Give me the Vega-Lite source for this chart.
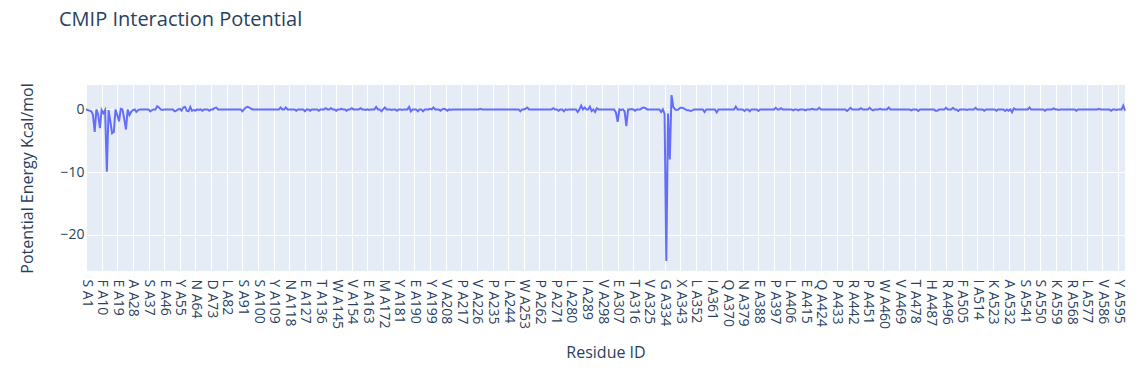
{
  "$schema": "https://vega.github.io/schema/vega-lite/v6.json",
  "width": 1039,
  "height": 186,
  "autosize": "none",
  "padding": {"left": 86, "top": 85, "right": 21, "bottom": 97},
  "background": "white",
  "title": {"text": "CMIP Interaction Potential", "anchor": "start", "frame": "group", "dx": -27, "offset": 53, "font": "Open Sans", "fontSize": 20, "fontWeight": "normal", "color": "#2a3f5f"},
  "config": {"view": {"fill": "#E5ECF6", "stroke": null}, "font": "Open Sans"},
  "data": {"values": [
{"r":"S A1","v":0},{"r":"A2","v":-0.1},{"r":"A3","v":-0.2},{"r":"A4","v":-0.3},{"r":"A5","v":-0.8},{"r":"A6","v":-3.6},{"r":"A7","v":0},{"r":"A8","v":-0.8},{"r":"A9","v":-3.0},{"r":"F A10","v":-0.1},
{"r":"A11","v":-0.6},{"r":"A12","v":-0.1},{"r":"A13","v":-9.95},{"r":"A14","v":-0.1},{"r":"A15","v":-1.9},{"r":"A16","v":-3.8},{"r":"A17","v":-3.6},{"r":"A18","v":0},{"r":"E A19","v":-0.9},{"r":"A20","v":-1.9},
{"r":"A21","v":0.1},{"r":"A22","v":0},{"r":"A23","v":-1.5},{"r":"A24","v":-3.2},{"r":"A25","v":0},{"r":"A26","v":-0.9},{"r":"A27","v":-0.4},{"r":"A A28","v":-0.1},{"r":"A29","v":0},{"r":"A30","v":-0.4},
{"r":"A31","v":-0.1},{"r":"A32","v":0},{"r":"A33","v":0},{"r":"A34","v":0},{"r":"A35","v":0},{"r":"A36","v":0},{"r":"S A37","v":0},{"r":"A38","v":-0.3},{"r":"A39","v":-0.1},{"r":"A40","v":0},
{"r":"A41","v":0},{"r":"A42","v":0.5},{"r":"A43","v":0.3},{"r":"A44","v":0},{"r":"A45","v":-0.1},{"r":"E A46","v":0},{"r":"A47","v":0},{"r":"A48","v":0},{"r":"A49","v":0},{"r":"A50","v":0},
{"r":"A51","v":0},{"r":"A52","v":-0.3},{"r":"A53","v":-0.2},{"r":"A54","v":0},{"r":"Y A55","v":0.1},{"r":"A56","v":-0.2},{"r":"A57","v":0.3},{"r":"A58","v":0.4},{"r":"A59","v":-0.2},{"r":"A60","v":-0.3},
{"r":"A61","v":0.4},{"r":"A62","v":-0.2},{"r":"A63","v":-0.1},{"r":"N A64","v":-0.2},{"r":"A65","v":0},{"r":"A66","v":-0.1},{"r":"A67","v":0},{"r":"A68","v":-0.2},{"r":"A69","v":0},{"r":"A70","v":0},
{"r":"A71","v":0},{"r":"A72","v":-0.2},{"r":"D A73","v":0},{"r":"A74","v":0},{"r":"A75","v":0.2},{"r":"A76","v":0.3},{"r":"A77","v":0},{"r":"A78","v":0},{"r":"A79","v":0},{"r":"A80","v":0},
{"r":"A81","v":0},{"r":"L A82","v":0},{"r":"A83","v":0},{"r":"A84","v":0},{"r":"A85","v":0},{"r":"A86","v":0},{"r":"A87","v":0},{"r":"A88","v":0},{"r":"A89","v":0},{"r":"A90","v":0},
{"r":"S A91","v":-0.3},{"r":"A92","v":0},{"r":"A93","v":0.3},{"r":"A94","v":0.4},{"r":"A95","v":0.3},{"r":"A96","v":0.1},{"r":"A97","v":0},{"r":"A98","v":0},{"r":"A99","v":0},{"r":"S A100","v":0},
{"r":"A101","v":0},{"r":"A102","v":0},{"r":"A103","v":0},{"r":"A104","v":0},{"r":"A105","v":0},{"r":"A106","v":0},{"r":"A107","v":0},{"r":"A108","v":0},{"r":"Y A109","v":0},{"r":"A110","v":0},
{"r":"A111","v":0},{"r":"A112","v":0},{"r":"A113","v":0.3},{"r":"A114","v":0},{"r":"A115","v":0},{"r":"A116","v":0.3},{"r":"A117","v":0},{"r":"N A118","v":0},{"r":"A119","v":0},{"r":"A120","v":0},
{"r":"A121","v":0},{"r":"A122","v":-0.2},{"r":"A123","v":0},{"r":"A124","v":0},{"r":"A125","v":0},{"r":"A126","v":0},{"r":"E A127","v":-0.3},{"r":"A128","v":0},{"r":"A129","v":0},{"r":"A130","v":-0.2},
{"r":"A131","v":0},{"r":"A132","v":0},{"r":"A133","v":0},{"r":"A134","v":0},{"r":"A135","v":-0.2},{"r":"T A136","v":0},{"r":"A137","v":0},{"r":"A138","v":0},{"r":"A139","v":0.2},{"r":"A140","v":0},
{"r":"A141","v":0},{"r":"A142","v":0.2},{"r":"A143","v":0},{"r":"A144","v":0},{"r":"W A145","v":-0.2},{"r":"A146","v":0},{"r":"A147","v":0},{"r":"A148","v":0.1},{"r":"A149","v":0},{"r":"A150","v":0},
{"r":"A151","v":-0.2},{"r":"A152","v":0},{"r":"A153","v":0},{"r":"V A154","v":0.2},{"r":"A155","v":0},{"r":"A156","v":0},{"r":"A157","v":0},{"r":"A158","v":0},{"r":"A159","v":0.2},{"r":"A160","v":0},
{"r":"A161","v":0},{"r":"A162","v":-0.1},{"r":"E A163","v":0},{"r":"A164","v":-0.1},{"r":"A165","v":0},{"r":"A166","v":0},{"r":"A167","v":0},{"r":"A168","v":0.4},{"r":"A169","v":0},{"r":"A170","v":0},
{"r":"A171","v":-0.3},{"r":"M A172","v":0},{"r":"A173","v":0.3},{"r":"A174","v":0},{"r":"A175","v":0},{"r":"A176","v":0},{"r":"A177","v":-0.1},{"r":"A178","v":0},{"r":"A179","v":0},{"r":"A180","v":-0.2},
{"r":"Y A181","v":0},{"r":"A182","v":0},{"r":"A183","v":-0.1},{"r":"A184","v":0},{"r":"A185","v":0},{"r":"A186","v":0},{"r":"A187","v":0.4},{"r":"A188","v":-0.3},{"r":"A189","v":0},{"r":"E A190","v":0},
{"r":"A191","v":0},{"r":"A192","v":-0.3},{"r":"A193","v":0},{"r":"A194","v":0},{"r":"A195","v":-0.3},{"r":"A196","v":0},{"r":"A197","v":0},{"r":"A198","v":0},{"r":"Y A199","v":0.1},{"r":"A200","v":0},
{"r":"A201","v":0.3},{"r":"A202","v":0},{"r":"A203","v":0},{"r":"A204","v":0},{"r":"A205","v":-0.2},{"r":"A206","v":0},{"r":"A207","v":0.1},{"r":"V A208","v":0},{"r":"A209","v":-0.2},{"r":"A210","v":0},
{"r":"A211","v":-0.1},{"r":"A212","v":0},{"r":"A213","v":0},{"r":"A214","v":0},{"r":"A215","v":0},{"r":"A216","v":0},{"r":"P A217","v":0},{"r":"A218","v":0},{"r":"A219","v":0},{"r":"A220","v":0},
{"r":"A221","v":0},{"r":"A222","v":0},{"r":"A223","v":0},{"r":"A224","v":0},{"r":"A225","v":0},{"r":"V A226","v":0},{"r":"A227","v":0},{"r":"A228","v":0.1},{"r":"A229","v":0},{"r":"A230","v":0},
{"r":"A231","v":0},{"r":"A232","v":0},{"r":"A233","v":0},{"r":"A234","v":0},{"r":"P A235","v":0},{"r":"A236","v":0},{"r":"A237","v":0},{"r":"A238","v":0},{"r":"A239","v":0},{"r":"A240","v":0},
{"r":"A241","v":0},{"r":"A242","v":0},{"r":"A243","v":0},{"r":"L A244","v":0},{"r":"A245","v":0},{"r":"A246","v":0},{"r":"A247","v":0},{"r":"A248","v":0},{"r":"A249","v":0},{"r":"A250","v":0},
{"r":"A251","v":-0.3},{"r":"A252","v":0},{"r":"W A253","v":0},{"r":"A254","v":0.1},{"r":"A255","v":0.3},{"r":"A256","v":0},{"r":"A257","v":0},{"r":"A258","v":0},{"r":"A259","v":0},{"r":"A260","v":0},
{"r":"A261","v":0},{"r":"P A262","v":0},{"r":"A263","v":0},{"r":"A264","v":0},{"r":"A265","v":0},{"r":"A266","v":0},{"r":"A267","v":0},{"r":"A268","v":0},{"r":"A269","v":0},{"r":"A270","v":0.2},
{"r":"P A271","v":0},{"r":"A272","v":0},{"r":"A273","v":-0.2},{"r":"A274","v":0},{"r":"A275","v":0},{"r":"A276","v":-0.3},{"r":"A277","v":0},{"r":"A278","v":-0.1},{"r":"A279","v":0},{"r":"L A280","v":0},
{"r":"A281","v":0},{"r":"A282","v":0},{"r":"A283","v":0},{"r":"A284","v":-0.4},{"r":"A285","v":0},{"r":"A286","v":0.6},{"r":"A287","v":0},{"r":"A288","v":0.3},{"r":"I A289","v":0},{"r":"A290","v":0},
{"r":"A291","v":0.45},{"r":"A292","v":-0.25},{"r":"A293","v":0},{"r":"A294","v":-0.4},{"r":"A295","v":0.2},{"r":"A296","v":0},{"r":"A297","v":0},{"r":"V A298","v":0},{"r":"A299","v":0},{"r":"A300","v":0},
{"r":"A301","v":0},{"r":"A302","v":0},{"r":"A303","v":0},{"r":"A304","v":0},{"r":"A305","v":0},{"r":"A306","v":-0.5},{"r":"E A307","v":-1.97},{"r":"A308","v":0},{"r":"A309","v":-0.1},{"r":"A310","v":0},
{"r":"A311","v":-0.3},{"r":"A312","v":-2.66},{"r":"A313","v":0},{"r":"A314","v":0},{"r":"A315","v":0.05},{"r":"T A316","v":0},{"r":"A317","v":-0.2},{"r":"A318","v":0},{"r":"A319","v":0},{"r":"A320","v":0},
{"r":"A321","v":0.2},{"r":"A322","v":0.3},{"r":"A323","v":0.2},{"r":"A324","v":0},{"r":"V A325","v":0},{"r":"A326","v":0},{"r":"A327","v":0},{"r":"A328","v":0},{"r":"A329","v":0},{"r":"A330","v":0},
{"r":"A331","v":0},{"r":"A332","v":-0.4},{"r":"A333","v":0},{"r":"G A334","v":-0.7},{"r":"A335","v":-24.2},{"r":"A336","v":-0.65},{"r":"A337","v":-8.0},{"r":"A338","v":2.3},{"r":"A339","v":0.4},{"r":"A340","v":0},
{"r":"A341","v":-0.1},{"r":"A342","v":0},{"r":"X A343","v":0.25},{"r":"A344","v":0.25},{"r":"A345","v":0.15},{"r":"A346","v":0},{"r":"A347","v":-0.15},{"r":"A348","v":-0.15},{"r":"A349","v":-0.25},{"r":"A350","v":-0.15},
{"r":"A351","v":0},{"r":"L A352","v":0},{"r":"A353","v":0},{"r":"A354","v":0},{"r":"A355","v":0},{"r":"A356","v":0},{"r":"A357","v":-0.4},{"r":"A358","v":0},{"r":"A359","v":0},{"r":"A360","v":0},
{"r":"I A361","v":0},{"r":"A362","v":0},{"r":"A363","v":0},{"r":"A364","v":-0.45},{"r":"A365","v":0},{"r":"A366","v":0},{"r":"A367","v":0},{"r":"A368","v":0},{"r":"A369","v":0},{"r":"Q A370","v":0},
{"r":"A371","v":0},{"r":"A372","v":0},{"r":"A373","v":0},{"r":"A374","v":0},{"r":"A375","v":0.45},{"r":"A376","v":0},{"r":"A377","v":0},{"r":"A378","v":0},{"r":"N A379","v":0},{"r":"A380","v":-0.25},
{"r":"A381","v":0},{"r":"A382","v":0},{"r":"A383","v":-0.3},{"r":"A384","v":0},{"r":"A385","v":0},{"r":"A386","v":0},{"r":"A387","v":0},{"r":"E A388","v":-0.25},{"r":"A389","v":0},{"r":"A390","v":0},
{"r":"A391","v":0},{"r":"A392","v":0},{"r":"A393","v":0},{"r":"A394","v":0},{"r":"A395","v":0},{"r":"A396","v":0},{"r":"P A397","v":0},{"r":"A398","v":0.25},{"r":"A399","v":0},{"r":"A400","v":0},
{"r":"A401","v":0.2},{"r":"A402","v":0},{"r":"A403","v":0},{"r":"A404","v":0},{"r":"A405","v":0},{"r":"L A406","v":0},{"r":"A407","v":0},{"r":"A408","v":-0.15},{"r":"A409","v":0},{"r":"A410","v":0},
{"r":"A411","v":-0.15},{"r":"A412","v":0},{"r":"A413","v":0},{"r":"A414","v":0},{"r":"E A415","v":-0.15},{"r":"A416","v":0},{"r":"A417","v":0},{"r":"A418","v":0},{"r":"A419","v":0.1},{"r":"A420","v":0},
{"r":"A421","v":0},{"r":"A422","v":0},{"r":"A423","v":0.25},{"r":"Q A424","v":0},{"r":"A425","v":0},{"r":"A426","v":0},{"r":"A427","v":0},{"r":"A428","v":0},{"r":"A429","v":0},{"r":"A430","v":0},
{"r":"A431","v":0},{"r":"A432","v":0},{"r":"P A433","v":0},{"r":"A434","v":0},{"r":"A435","v":0},{"r":"A436","v":0},{"r":"A437","v":0},{"r":"A438","v":0},{"r":"A439","v":-0.25},{"r":"A440","v":0},
{"r":"A441","v":0.25},{"r":"R A442","v":0},{"r":"A443","v":0},{"r":"A444","v":0},{"r":"A445","v":0},{"r":"A446","v":0},{"r":"A447","v":0.2},{"r":"A448","v":0},{"r":"A449","v":0},{"r":"A450","v":0},
{"r":"P A451","v":0},{"r":"A452","v":0.25},{"r":"A453","v":0},{"r":"A454","v":-0.15},{"r":"A455","v":0},{"r":"A456","v":0},{"r":"A457","v":0},{"r":"A458","v":0.1},{"r":"A459","v":0},{"r":"W A460","v":0},
{"r":"A461","v":0},{"r":"A462","v":0},{"r":"A463","v":0.3},{"r":"A464","v":0},{"r":"A465","v":0},{"r":"A466","v":0},{"r":"A467","v":0},{"r":"A468","v":0},{"r":"V A469","v":0},{"r":"A470","v":0},
{"r":"A471","v":0},{"r":"A472","v":0},{"r":"A473","v":0},{"r":"A474","v":0},{"r":"A475","v":0},{"r":"A476","v":-0.15},{"r":"A477","v":0},{"r":"T A478","v":0},{"r":"A479","v":0},{"r":"A480","v":-0.25},
{"r":"A481","v":0},{"r":"A482","v":0},{"r":"A483","v":0},{"r":"A484","v":0},{"r":"A485","v":0},{"r":"A486","v":0},{"r":"H A487","v":0},{"r":"A488","v":0},{"r":"A489","v":0},{"r":"A490","v":-0.2},
{"r":"A491","v":-0.2},{"r":"A492","v":0},{"r":"A493","v":0},{"r":"A494","v":0},{"r":"A495","v":0},{"r":"R A496","v":0.25},{"r":"A497","v":0},{"r":"A498","v":0},{"r":"A499","v":0},{"r":"A500","v":0.25},
{"r":"A501","v":0},{"r":"A502","v":0},{"r":"A503","v":-0.25},{"r":"A504","v":0},{"r":"F A505","v":0},{"r":"A506","v":0},{"r":"A507","v":0},{"r":"A508","v":-0.1},{"r":"A509","v":0},{"r":"A510","v":0},
{"r":"A511","v":0},{"r":"A512","v":0},{"r":"A513","v":0.25},{"r":"I A514","v":0},{"r":"A515","v":0},{"r":"A516","v":0},{"r":"A517","v":0},{"r":"A518","v":-0.2},{"r":"A519","v":0},{"r":"A520","v":0},
{"r":"A521","v":0},{"r":"A522","v":0},{"r":"K A523","v":0},{"r":"A524","v":0},{"r":"A525","v":-0.2},{"r":"A526","v":0},{"r":"A527","v":0},{"r":"A528","v":0},{"r":"A529","v":0},{"r":"A530","v":-0.25},
{"r":"A531","v":0},{"r":"A A532","v":-0.2},{"r":"A533","v":0},{"r":"A534","v":-0.45},{"r":"A535","v":0.15},{"r":"A536","v":0},{"r":"A537","v":0},{"r":"A538","v":0},{"r":"A539","v":0},{"r":"A540","v":0},
{"r":"S A541","v":0},{"r":"A542","v":0},{"r":"A543","v":0},{"r":"A544","v":0.3},{"r":"A545","v":0},{"r":"A546","v":0},{"r":"A547","v":0},{"r":"A548","v":0},{"r":"A549","v":0},{"r":"S A550","v":0},
{"r":"A551","v":0},{"r":"A552","v":0},{"r":"A553","v":-0.2},{"r":"A554","v":0},{"r":"A555","v":0},{"r":"A556","v":0},{"r":"A557","v":0},{"r":"A558","v":0.15},{"r":"K A559","v":0},{"r":"A560","v":0},
{"r":"A561","v":-0.1},{"r":"A562","v":0},{"r":"A563","v":0},{"r":"A564","v":0},{"r":"A565","v":0},{"r":"A566","v":0},{"r":"A567","v":0},{"r":"R A568","v":0},{"r":"A569","v":0},{"r":"A570","v":0},
{"r":"A571","v":-0.2},{"r":"A572","v":0},{"r":"A573","v":0},{"r":"A574","v":0},{"r":"A575","v":0},{"r":"A576","v":0},{"r":"L A577","v":0},{"r":"A578","v":0},{"r":"A579","v":0},{"r":"A580","v":0},
{"r":"A581","v":0},{"r":"A582","v":0},{"r":"A583","v":0},{"r":"A584","v":0.1},{"r":"A585","v":0},{"r":"V A586","v":0},{"r":"A587","v":0},{"r":"A588","v":0},{"r":"A589","v":0},{"r":"A590","v":0},
{"r":"A591","v":-0.2},{"r":"A592","v":0},{"r":"A593","v":0},{"r":"A594","v":-0.1},{"r":"Y A595","v":0},{"r":"A596","v":0},{"r":"A597","v":0},{"r":"A598","v":0.6},{"r":"A599","v":-0.2}
  ]},
  "mark": {"type": "line", "color": "#636efa", "strokeWidth": 2, "interpolate": "linear"},
  "encoding": {
    "x": {
      "field": "r", "type": "ordinal", "sort": null,
      "scale": {"type": "point", "padding": 0},
      "axis": {
        "title": "Residue ID",
        "values": ["S A1","F A10","E A19","A A28","S A37","E A46","Y A55","N A64","D A73","L A82","S A91","S A100","Y A109","N A118","E A127","T A136","W A145","V A154","E A163","M A172","Y A181","E A190","Y A199","V A208","P A217","V A226","P A235","L A244","W A253","P A262","P A271","L A280","I A289","V A298","E A307","T A316","V A325","G A334","X A343","L A352","I A361","Q A370","N A379","E A388","P A397","L A406","E A415","Q A424","P A433","R A442","P A451","W A460","V A469","T A478","H A487","R A496","F A505","I A514","K A523","A A532","S A541","S A550","K A559","R A568","L A577","V A586","Y A595"],
        "labelAngle": 90, "labelFont": "Open Sans", "labelFontSize": 14, "labelColor": "#2a3f5f",
        "labelOverlap": false, "labelBound": false, "labelFlush": false,
        "ticks": false, "domain": false, "grid": true, "gridColor": "white", "gridWidth": 1,
        "labelPadding": 8,
        "titleFont": "Open Sans", "titleFontSize": 16, "titleFontWeight": "normal", "titleColor": "#2a3f5f",
        "titleY": 86.5, "titleBaseline": "alphabetic"
      }
    },
    "y": {
      "field": "v", "type": "quantitative",
      "scale": {"domain": [-25.8, 3.9], "nice": false, "zero": false},
      "axis": {
        "title": "Potential Energy Kcal/mol",
        "values": [-20, -10, 0],
        "labelFont": "Open Sans", "labelFontSize": 14, "labelColor": "#2a3f5f",
        "ticks": false, "domain": false, "grid": true, "gridColor": "white", "gridWidth": 1,
        "labelPadding": 2,
        "titleFont": "Open Sans", "titleFontSize": 16, "titleFontWeight": "normal", "titleColor": "#2a3f5f",
        "titleX": -59, "titleY": 93, "titleAngle": -90, "titleAlign": "center", "titleBaseline": "middle"
      }
    }
  }
}
